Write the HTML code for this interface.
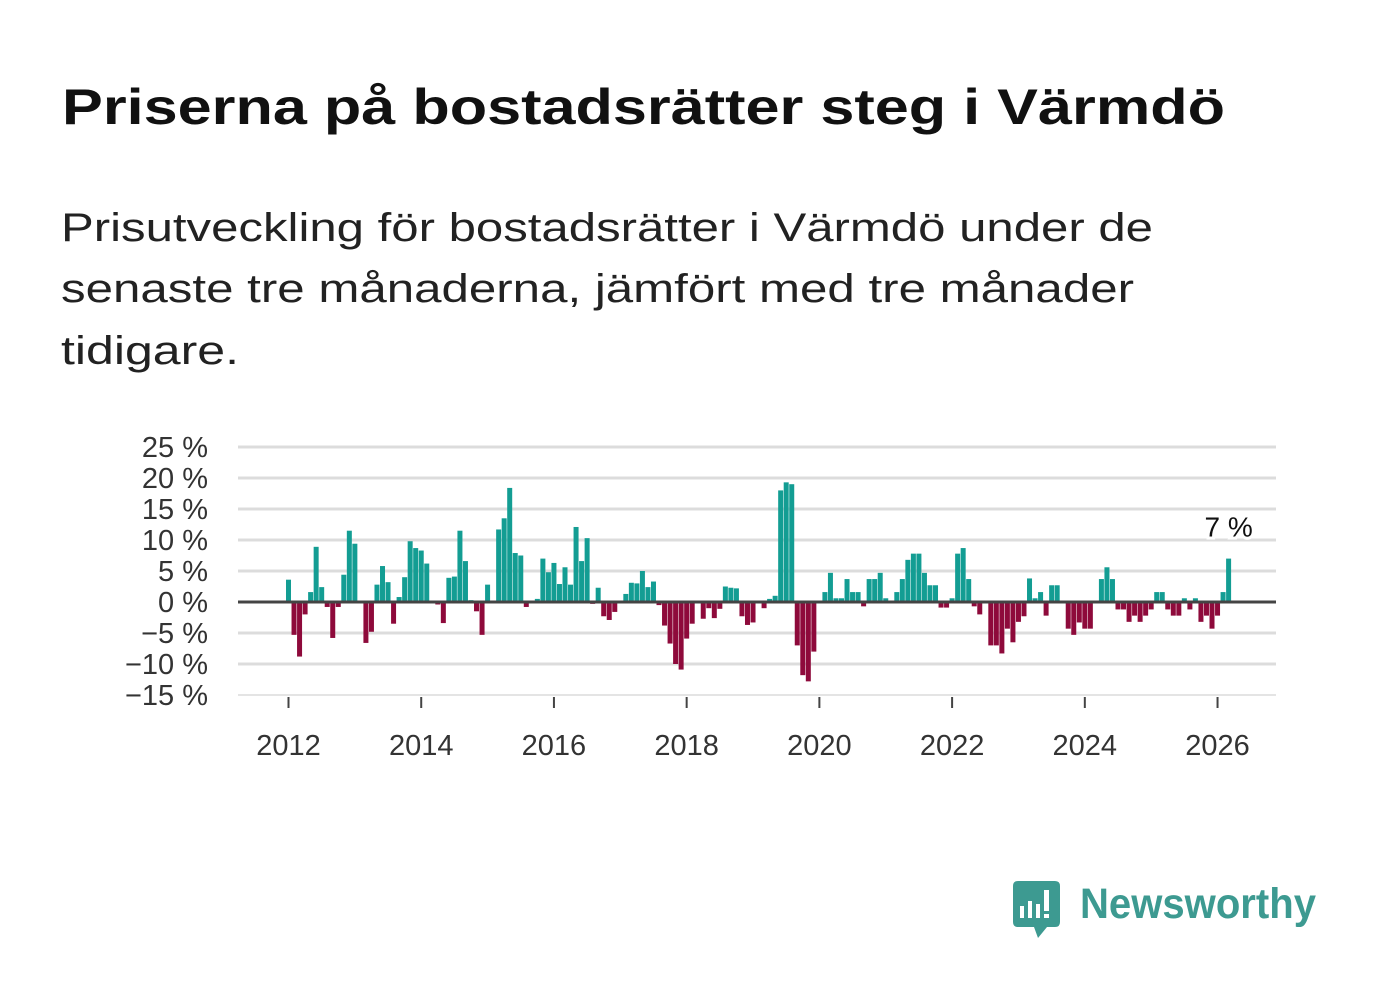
<!DOCTYPE html>
<html><head><meta charset="utf-8">
<style>
html,body{margin:0;padding:0;background:#fff;}
svg{display:block;font-family:"Liberation Sans",sans-serif;}
</style></head>
<body>
<svg id="chart" width="1382" height="999" viewBox="0 0 1382 999" xmlns="http://www.w3.org/2000/svg">
<text x="62" y="124" font-size="50" font-weight="bold" fill="#111" textLength="1163" lengthAdjust="spacingAndGlyphs">Priserna på bostadsrätter steg i Värmdö</text>
<g font-size="40" fill="#222">
<text x="61" y="241" textLength="1092" lengthAdjust="spacingAndGlyphs">Prisutveckling för bostadsrätter i Värmdö under de</text>
<text x="61" y="302" textLength="1073" lengthAdjust="spacingAndGlyphs">senaste tre månaderna, jämfört med tre månader</text>
<text x="61" y="364" textLength="178" lengthAdjust="spacingAndGlyphs">tidigare.</text>
</g>
<g id="grid"></g>
<g id="yaxis"></g>
<g id="xaxis"></g>
<g id="bars"></g>
<g id="zero"></g>
<g id="annot"></g>
<g>
<path d="M1018 881 H1055 Q1060 881 1060 886 V922 Q1060 927 1055 927 H1047 L1038 938 L1034 927 H1018 Q1013 927 1013 922 V886 Q1013 881 1018 881 Z" fill="#3d9a91"/>
<rect x="1020" y="906" width="4" height="12" fill="#fff"/>
<rect x="1028" y="901" width="4" height="17" fill="#fff"/>
<rect x="1036" y="904" width="4" height="14" fill="#fff"/>
<rect x="1044" y="890" width="5" height="21" fill="#fff"/>
<rect x="1044" y="914" width="5" height="4" fill="#fff"/>
<text x="1080" y="918" font-size="43" font-weight="bold" fill="#3d9a91" textLength="236" lengthAdjust="spacingAndGlyphs">Newsworthy</text>
</g>
</svg>
<script>
const values = [3.6,-5.3,-8.8,-2,1.6,8.9,2.4,-0.8,-5.8,-0.8,4.4,11.5,9.4,0.2,-6.6,-4.8,2.8,5.8,3.2,-3.5,0.8,4,9.8,8.7,8.3,6.2,0,-0.4,-3.4,3.9,4.1,11.5,6.6,0.3,-1.5,-5.3,2.8,0,11.7,13.5,18.4,7.9,7.5,-0.8,0,0.5,7,4.8,6.3,2.9,5.6,2.8,12.1,6.6,10.3,-0.3,2.3,-2.3,-2.9,-1.6,0,1.3,3.1,3,5,2.4,3.3,-0.5,-3.8,-6.7,-10,-10.9,-5.9,-3.5,0,-2.7,-1,-2.6,-1.1,2.5,2.3,2.2,-2.3,-3.7,-3.3,0,-1,0.5,1,18,19.3,19,-7,-11.8,-12.8,-8,0,1.6,4.7,0.6,0.6,3.7,1.6,1.6,-0.7,3.7,3.7,4.7,0.6,0,1.6,3.7,6.8,7.8,7.8,4.7,2.7,2.7,-0.9,-0.9,0.6,7.8,8.7,3.7,-0.7,-2,0,-7,-7,-8.3,-4.3,-6.5,-3.2,-2.3,3.8,0.6,1.6,-2.2,2.7,2.7,0,-4.3,-5.3,-3.3,-4.3,-4.3,0,3.7,5.6,3.7,-1.2,-1.2,-3.2,-2.2,-3.2,-2.2,-1.2,1.6,1.6,-1.2,-2.2,-2.2,0.6,-1.2,0.6,-3.2,-2.2,-4.3,-2.2,1.6,7];
const startYear = 2012;
const yTicks = [25,20,15,10,5,0,-5,-10,-15];
const yTickLabels = ["25 %","20 %","15 %","10 %","5 %","0 %","−5 %","−10 %","−15 %"];
const xTicks = [2012,2014,2016,2018,2020,2022,2024,2026];

const NS="http://www.w3.org/2000/svg";
function y(v){return 602 - v*6.2;}
function x(monthIndex){return 288.5 + monthIndex*5.53;}
function mk(tag,attrs,parent){const e=document.createElementNS(NS,tag);for(const k in attrs)e.setAttribute(k,attrs[k]);parent.appendChild(e);return e;}
const grid=document.getElementById('grid'),ya=document.getElementById('yaxis'),xa=document.getElementById('xaxis'),bars=document.getElementById('bars');
yTicks.forEach((t,i)=>{
  const l=mk('line',{x1:238,x2:1276,y1:y(t),y2:y(t),stroke:'#dcdcdc','stroke-width':t===-15?1.5:3},grid);
  
  
  const tx=mk('text',{x:208,y:y(t)+10,'font-size':29,fill:'#333','text-anchor':'end'},ya);
  tx.textContent=yTickLabels[i];
  
  
});
xTicks.forEach(yr=>{
  const px=x((yr-startYear)*12);
  const tk=mk('line',{x1:px,x2:px,y1:697,y2:708,stroke:'#444','stroke-width':2},xa);
  
  
  const tx=mk('text',{x:px,y:755,'font-size':29,fill:'#333','text-anchor':'middle'},xa);
  tx.textContent=yr;
  
  
});
values.forEach((v,i)=>{
  if(v===0)return;
  const cx=x(i);
  const r=mk('rect',{x:cx-2.5,width:5,y:Math.min(y(v),y(0)),height:Math.abs(y(v)-y(0)),fill:v>0?'#139d93':'#8e0a3b'},bars);
  
  
});
const zl=mk('line',{x1:238,x2:1276,y1:y(0),y2:y(0),stroke:'#444','stroke-width':3},document.getElementById('zero'));


const last=values.length-1;
const an=mk('text',{x:x(last),y:y(values[last])-22,'font-size':28,fill:'#111','text-anchor':'middle',stroke:'#fff','stroke-width':6,'paint-order':'stroke'},document.getElementById('annot'));
an.textContent=Math.round(values[last])+' %';


</script>
</body></html>
